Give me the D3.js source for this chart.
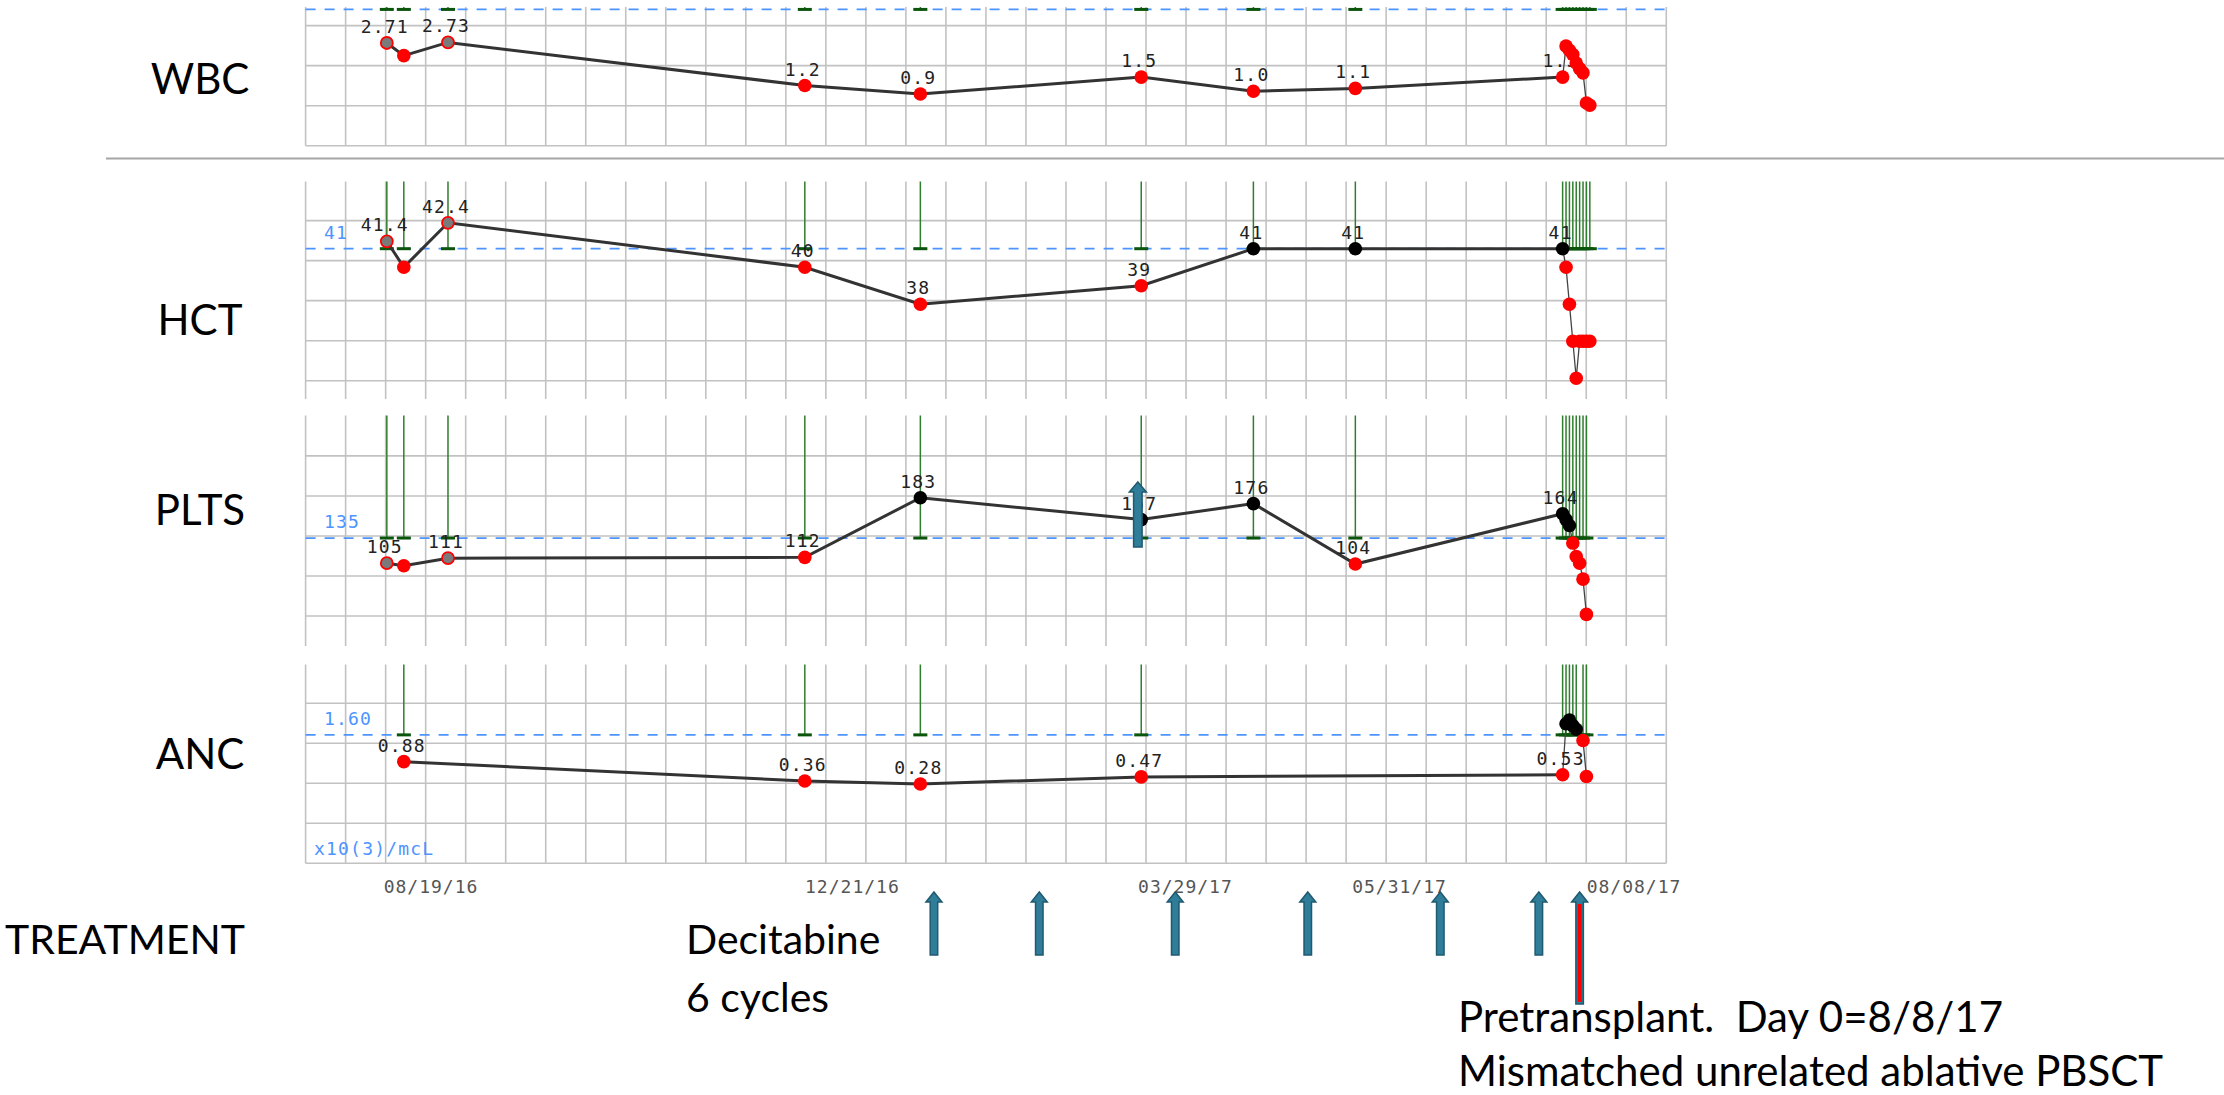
<!DOCTYPE html>
<meta charset="utf-8">
<style>
  body { margin: 0; background: #fff; }
  .grid line { stroke: #c2c2c2; stroke-width: 1.6; }
  .ref { stroke: #4d94ff; stroke-width: 1.8; stroke-dasharray: 10,9; }
  .mono { font-family: "DejaVu Sans Mono", monospace; }
  .big { font-family: Lato, sans-serif; fill: #000; }
</style>
<body>
<script src="https://d3js.org/d3.v7.min.js"></script>
<script>
// draw dates, shared by all four panels
var drawDates = ["2016-08-06","2016-08-11","2016-08-24","2016-12-07","2017-01-10",
  "2017-03-16","2017-04-18","2017-05-18","2017-07-18",
  "2017-07-19","2017-07-20","2017-07-21","2017-07-22","2017-07-23","2017-07-24","2017-07-25","2017-07-26"];
var outsideLab = ["2016-08-06","2016-08-24"];   // grey points

var wbc  = [2.71, 2.26, 2.73, 1.2, 0.9, 1.5, 1.0, 1.1, 1.5, 2.6, 2.45, 2.3, 2.0, 1.8, 1.65, 0.58, 0.5];
var hct  = [41.4, 40, 42.4, 40, 38, 39, 41, 41, 41, 40, 38, 36, 34, 36, 36, 36, 36];
var plts = [105, 102, 111, 112, 183, 157, 176, 104, 164, 157, 150, 129, 113, 105, 86, 44, null];
var anc  = [null, 0.88, null, 0.36, 0.28, 0.47, null, null, 0.53, 1.9, 2.0, 1.85, 1.75, null, 1.45, 0.48, null];

var wbcLabels  = ["2.71","","2.73","1.2","0.9","1.5","1.0","1.1","1.5"];
var hctLabels  = ["41.4","","42.4","40","38","39","41","41","41"];
var pltsLabels = ["105","","111","112","183","157","176","104","164"];
var ancLabels  = ["","0.88","","0.36","0.28","0.47","","","0.53"];

var refValues = [3.9, 41, 135, 1.6];
var refLabels = ["", "41", "135", "1.60"];
var panelNames = ["WBC", "HCT", "PLTS", "ANC"];

var tickLabels = ["08/19/16","12/21/16","03/29/17","05/31/17","08/08/17"];
var decitabineDates = ["2017-01-14","2017-02-14","2017-03-26","2017-05-04","2017-06-12","2017-07-11"];
var conditioningDate = "2017-07-23";
var pltsArrowDate = "2017-03-15";

var W = 2224, H = 1095;
var left = 305.6, right = 1666.4, cell = 40.02;

var parseISO = d3.utcParse("%Y-%m-%d"),
    parseTick = d3.utcParse("%m/%d/%y");

var x = d3.scaleUtc()
  .domain([parseTick("08/19/16"), parseTick("08/08/17")])
  .range([431, 1634]);

// panel frames (top, bottom, last grid row, bottom border drawn)
var panels = [
  {values: wbc,  labels: wbcLabels,  top: 7,     bottom: 145.7, anchor: 145.7,
   y: d3.scaleLinear().domain([0, 4]).range([119.4, 6.6]), nameY: 94},
  {values: hct,  labels: hctLabels,  top: 181.5, bottom: 399,   anchor: 380.7,
   y: d3.scaleLinear().domain([30, 45]).range([452.2, 174.7]), nameY: 335},
  {values: plts, labels: pltsLabels, top: 415.5, bottom: 646,   anchor: 616,
   y: d3.scaleLinear().domain([0, 200]).range([651.3, 483.5]), nameY: 525},
  {values: anc,  labels: ancLabels,  top: 664.5, bottom: 863.3, anchor: 863.3,
   y: d3.scaleLinear().domain([0, 2]).range([794.4, 720]), nameY: 769}
];

var svg = d3.select("body").append("svg")
  .attr("width", W).attr("height", H);

// separator under WBC
svg.append("line")
  .attr("x1", 106).attr("x2", W).attr("y1", 158.5).attr("y2", 158.5)
  .attr("stroke", "#a6a6a6").attr("stroke-width", 2);

var cols = d3.range(0, 35).map(function(k) { return left + k * cell; });

panels.forEach(function(p, i) {
  var g = svg.append("g");
  var pts = drawDates.map(function(d, j) {
    return {date: parseISO(d), iso: d, v: p.values[j], label: p.labels[j] || "", idx: j};
  }).filter(function(d) { return d.v != null; });
  var refY = p.y(refValues[i]);

  // grid
  var grid = g.append("g").attr("class", "grid");
  grid.selectAll(".v").data(cols).enter().append("line")
    .attr("x1", function(d) { return d; }).attr("x2", function(d) { return d; })
    .attr("y1", p.top).attr("y2", p.bottom);
  var rows = d3.range(p.anchor, p.top + 2, -cell);
  grid.selectAll(".h").data(rows).enter().append("line")
    .attr("x1", left).attr("x2", right)
    .attr("y1", function(d) { return d; }).attr("y2", function(d) { return d; });

  // reference line + label
  g.append("line").attr("class", "ref")
    .attr("x1", left).attr("x2", right).attr("y1", refY).attr("y2", refY);
  g.append("text").attr("class", "mono")
    .attr("x", 324).attr("y", refY - 10)
    .attr("font-size", 18).attr("letter-spacing", 1.2).attr("fill", "#4d94ff")
    .text(refLabels[i]);

  // green bars from the top of the frame to the reference line
  g.selectAll(".gl").data(pts).enter().append("line")
    .attr("x1", function(d) { return x(d.date); }).attr("x2", function(d) { return x(d.date); })
    .attr("y1", p.top).attr("y2", refY)
    .attr("stroke", "#2f7d2f").attr("stroke-width", 1.5);
  g.selectAll(".gc").data(pts).enter().append("line")
    .attr("x1", function(d) { return x(d.date) - 7; }).attr("x2", function(d) { return x(d.date) + 7; })
    .attr("y1", refY).attr("y2", refY)
    .attr("stroke", "#0b540b").attr("stroke-width", 3);

  // value line
  var line = d3.line().x(function(d) { return x(d.date); }).y(function(d) { return p.y(d.v); });
  var main = pts.filter(function(d) { return d.idx <= 8; });
  var tail = pts.filter(function(d) { return d.idx >= 8; });
  g.append("path").attr("d", line(main))
    .attr("fill", "none").attr("stroke", "#333").attr("stroke-width", 3);
  g.append("path").attr("d", line(tail))
    .attr("fill", "none").attr("stroke", "#444").attr("stroke-width", 1.3);

  // value labels
  g.selectAll(".lb").data(pts.filter(function(d) { return d.label; })).enter().append("text")
    .attr("class", "mono")
    .attr("x", function(d) { return x(d.date) - 2; })
    .attr("y", function(d) { return p.y(d.v) - 10; })
    .attr("text-anchor", "middle")
    .attr("font-size", 18).attr("letter-spacing", 1.2).attr("fill", "#222")
    .text(function(d) { return d.label; });

  // points
  g.selectAll(".pt").data(pts).enter().append("circle")
    .attr("cx", function(d) { return x(d.date); })
    .attr("cy", function(d) { return p.y(d.v); })
    .attr("r", function(d) { return outsideLab.indexOf(d.iso) >= 0 ? 6 : 6.8; })
    .attr("fill", function(d) {
      if (outsideLab.indexOf(d.iso) >= 0) return "#7a7a7a";
      return d.v >= refValues[i] ? "#000" : "#ff0000";
    })
    .attr("stroke", function(d) { return outsideLab.indexOf(d.iso) >= 0 ? "#ff0000" : "none"; })
    .attr("stroke-width", 1.8);

  // row name
  svg.append("text").attr("class", "big")
    .attr("x", 200).attr("y", p.nameY)
    .attr("text-anchor", "middle").attr("font-size", 42)
    .text(panelNames[i]);
});

svg.append("text").attr("class", "mono")
  .attr("x", 314).attr("y", 855)
  .attr("font-size", 18).attr("letter-spacing", 1.2).attr("fill", "#4d94ff")
  .text("x10(3)/mcL");

// date axis labels
svg.selectAll(".tick").data(tickLabels).enter().append("text")
  .attr("class", "mono")
  .attr("x", function(d) { return x(parseTick(d)); })
  .attr("y", 893)
  .attr("text-anchor", "middle")
  .attr("font-size", 18).attr("letter-spacing", 1).attr("fill", "#555")
  .text(function(d) { return d; });

// treatment arrows
function upArrow(cx, top, bottom, hw, hh, sw) {
  return "M" + cx + "," + top +
    "L" + (cx + hw / 2) + "," + (top + hh) +
    "L" + (cx + sw / 2) + "," + (top + hh) +
    "L" + (cx + sw / 2) + "," + bottom +
    "L" + (cx - sw / 2) + "," + bottom +
    "L" + (cx - sw / 2) + "," + (top + hh) +
    "L" + (cx - hw / 2) + "," + (top + hh) + "Z";
}
var arrowFill = "#2f7d99", arrowEdge = "#1f5a70";

svg.selectAll(".arr").data(decitabineDates).enter().append("path")
  .attr("d", function(d) { return upArrow(x(parseISO(d)), 892, 955, 16, 10, 7.5); })
  .attr("fill", arrowFill).attr("stroke", arrowEdge).attr("stroke-width", 1.5);

var cx = x(parseISO(conditioningDate));
svg.append("path")
  .attr("d", upArrow(cx, 892, 1004, 16, 10, 7.5))
  .attr("fill", arrowFill).attr("stroke", arrowEdge).attr("stroke-width", 1.5);
svg.append("rect")
  .attr("x", cx - 2).attr("y", 904).attr("width", 4).attr("height", 98)
  .attr("fill", "#ff0000");

svg.append("path")
  .attr("d", upArrow(x(parseISO(pltsArrowDate)), 482, 547, 17, 10, 8.5))
  .attr("fill", arrowFill).attr("stroke", arrowEdge).attr("stroke-width", 1.5);

// annotations
svg.append("text").attr("class", "big").attr("x", 5).attr("y", 954).attr("font-size", 41).text("TREATMENT");
svg.append("text").attr("class", "big").attr("x", 686).attr("y", 954).attr("font-size", 41).text("Decitabine");
svg.append("text").attr("class", "big").attr("x", 686).attr("y", 1012).attr("font-size", 41).text("6 cycles");
svg.append("text").attr("class", "big").attr("x", 1458).attr("y", 1032).attr("font-size", 42)
  .style("white-space", "pre").text("Pretransplant.  Day 0=8/8/17");
svg.append("text").attr("class", "big").attr("x", 1458).attr("y", 1086).attr("font-size", 42)
  .text("Mismatched unrelated ablative PBSCT");
</script>
</body>
